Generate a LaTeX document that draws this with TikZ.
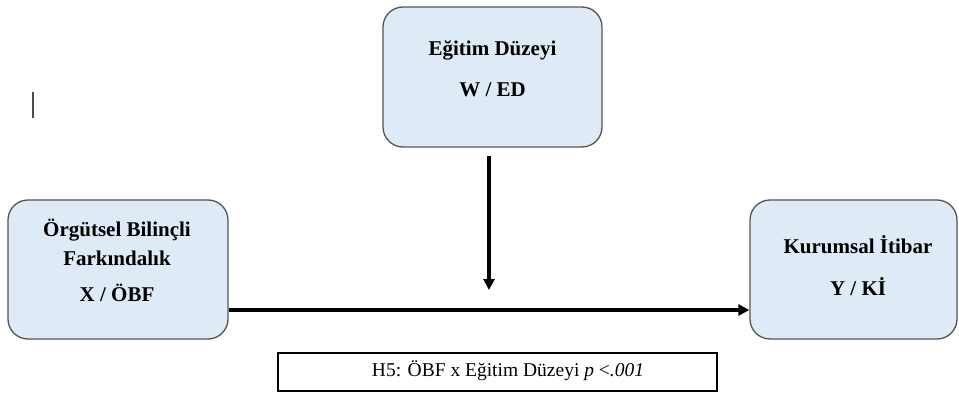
\documentclass[tikz,border=0pt]{standalone}
\usepackage{fontspec}
\setmainfont{Liberation Serif}
\usepackage{tikz}
\usetikzlibrary{arrows.meta}
\definecolor{boxblue}{RGB}{222,234,246}
\definecolor{boxline}{RGB}{85,85,85}

\begin{document}
\begin{tikzpicture}[x=1pt, y=-1pt, every node/.style={font=\fontsize{21}{24}\selectfont\bfseries},
  varbox/.style={draw=boxline, fill=boxblue, line width=1.3pt, rounded corners=20pt, inner sep=0pt},
  arrowline/.style={line width=3.2pt, -{Triangle[length=11pt,width=11pt]}}]
  \useasboundingbox (0,0) rectangle (959,401);
  % variable boxes
  \node[varbox, minimum width=219pt, minimum height=140pt] (ed) at (492.5,77) {};
  \node[varbox, minimum width=220pt, minimum height=139pt] (obf) at (118,269.5) {};
  \node[varbox, minimum width=207pt, minimum height=139pt] (ki) at (853.5,269.5) {};
  \node (edname) at (492.5,50) {Eğitim Düzeyi};
  \node (edcode) at (492.5,90) {W / ED};
  \node (obfname) at (117,230) {Örgütsel Bilinçli};
  \node (obfname2) at (117,258) {Farkındalık};
  \node (obfcode) at (117,293) {X / ÖBF};
  \node (kiname) at (858,245) {Kurumsal İtibar};
  \node (kicode) at (858,287) {Y / Kİ};
  % arrows
  \coordinate (main) at (0,310);
  \coordinate (modtop) at (489,156);
  \coordinate (modend) at (489,290);
  \draw[arrowline] (obf.east |- main) -- (ki.west |- main);
  \draw[arrowline] (modtop) -- (modend);
  % hypothesis
  \node[draw, line width=2pt, minimum width=439pt, minimum height=38pt, inner sep=0pt] (hyp) at (497.5,372) {};
  \node[font=\fontsize{19.5}{22}\selectfont] (hyptext) at (508,371)
    {H5: ÖBF x Eğitim Düzeyi \textit{p} <\textit{.001}};
  % cursor
  \draw[black!70, line width=1.3pt] (33,92) -- (33,118);
\end{tikzpicture}
\end{document}
